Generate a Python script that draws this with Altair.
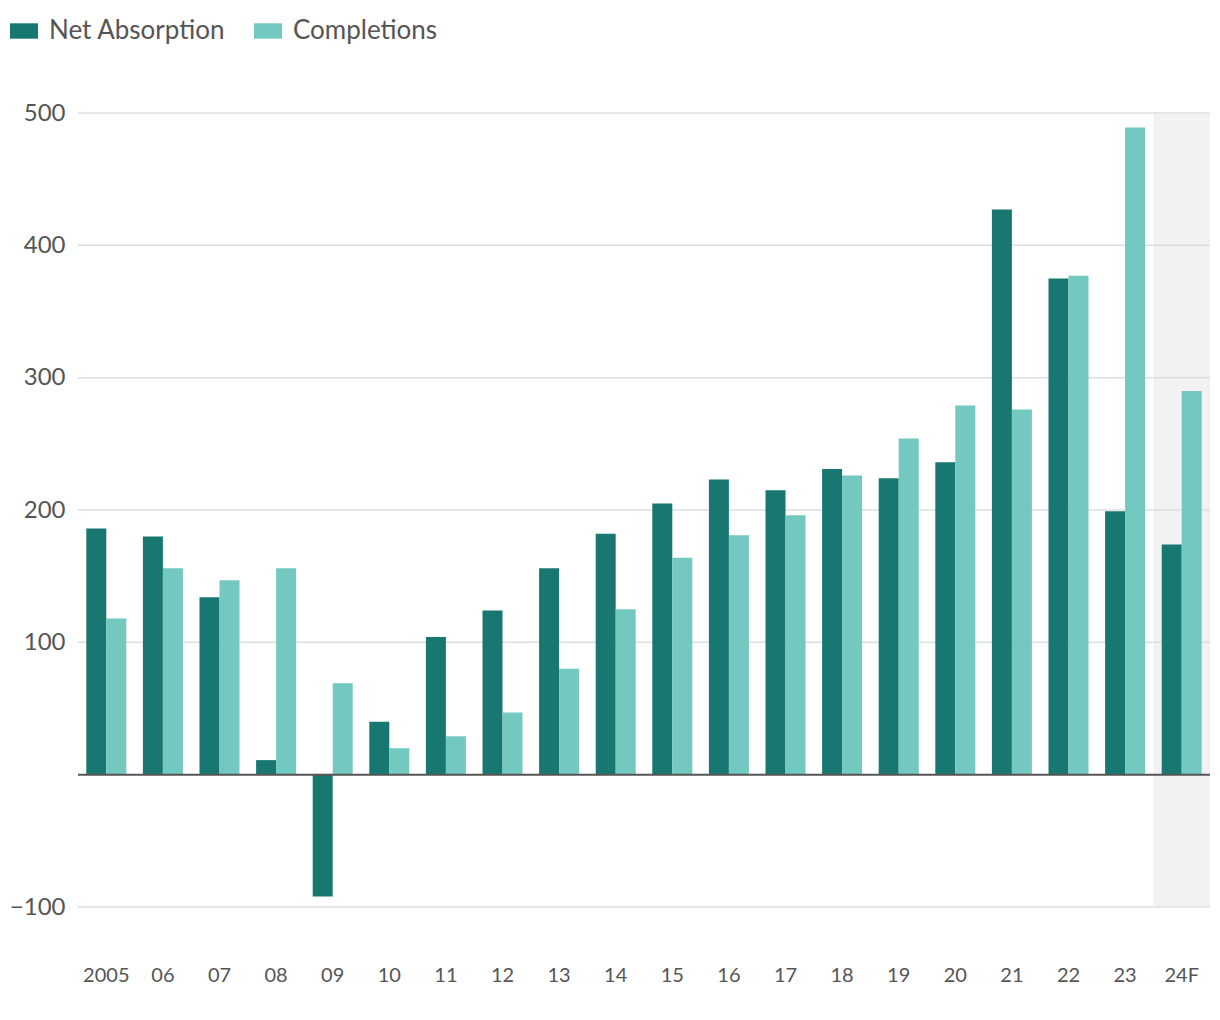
import altair as alt
import pandas as pd

years = ["2005", "06", "07", "08", "09", "10", "11", "12", "13", "14",
         "15", "16", "17", "18", "19", "20", "21", "22", "23", "24F"]
net_absorption = [186, 180, 134, 11, -92, 40, 104, 124, 156, 182,
                  205, 223, 215, 231, 224, 236, 427, 375, 199, 174]
completions = [118, 156, 147, 156, 69, 20, 29, 47, 80, 125,
               164, 181, 196, 226, 254, 279, 276, 377, 489, 290]
series = ["Net Absorption", "Completions"]
colors = ["#187871", "#73c8bf"]
grid_values = [-100, 100, 200, 300, 400, 500]
forecast = ["24F"]

rows = []
for i, y in enumerate(years):
    rows.append({"year": y, "series": series[0], "value": net_absorption[i]})
    rows.append({"year": y, "series": series[1], "value": completions[i]})
df = pd.DataFrame(rows)

W, H = 1132, 794
yscale = alt.Scale(domain=[-100, 500], nice=False, zero=False)
xscale = alt.Scale(domain=years, paddingInner=0, paddingOuter=0)

xaxis = alt.Axis(labelAngle=0, ticks=False, domain=False, labelPadding=58,
                 labelFontSize=20, labelColor="#555555", grid=False, title=None)
yaxis = alt.Axis(values=grid_values, labelExpr="replace(datum.label, '-', '−')",
                 ticks=False, domain=False, grid=False, labelPadding=13,
                 labelFontSize=24, labelColor="#555555", title=None)

band_df = pd.DataFrame({"year": forecast, "top": [500], "bot": [-100]})
band = alt.Chart(band_df).mark_rect(color="#f2f2f2").encode(
    x=alt.X("year:N", scale=xscale, sort=years, axis=xaxis, title=None),
    y=alt.Y("top:Q", scale=yscale, axis=yaxis, title=None),
    y2="bot:Q",
)

grid = alt.Chart(pd.DataFrame({"v": grid_values})).mark_rule(
    color="#dcdfe2", strokeWidth=1.5
).encode(y=alt.Y("v:Q", scale=yscale, axis=yaxis, title=None))

bars = alt.Chart(df).mark_bar().encode(
    x=alt.X("year:N", scale=xscale, sort=years, axis=xaxis, title=None),
    xOffset=alt.XOffset("series:N", sort=series,
                        scale=alt.Scale(domain=series, paddingOuter=0.415, paddingInner=0)),
    y=alt.Y("value:Q", scale=yscale, axis=yaxis, title=None),
    color=alt.Color("series:N", sort=series,
                    scale=alt.Scale(domain=series, range=colors),
                    legend=alt.Legend(title=None, orient="none", legendX=-68, legendY=-96,
                                      direction="horizontal", labelFontSize=26, labelLimit=400,
                                      labelColor="#555555", symbolType="M-1,-0.55L1,-0.55L1,0.55L-1,0.55Z",
                                      symbolSize=784, symbolStrokeWidth=0, symbolOpacity=1,
                                      labelOffset=11, columnPadding=28)),
)

zero = alt.Chart(pd.DataFrame({"v": [0]})).mark_rule(color="#555555", strokeWidth=2).encode(
    y=alt.Y("v:Q", scale=yscale, axis=yaxis, title=None)
)

chart = alt.layer(band, grid, bars, zero).properties(
    width=W, height=H,
    autosize=alt.AutoSizeParams(type="none"),
    padding={"left": 70, "top": 105, "right": 2, "bottom": 90},
).configure(font="Lato", view=alt.ViewConfig(strokeWidth=0, stroke="transparent"))

chart.save("out.html", embed_options={"renderer": "svg", "actions": False})
